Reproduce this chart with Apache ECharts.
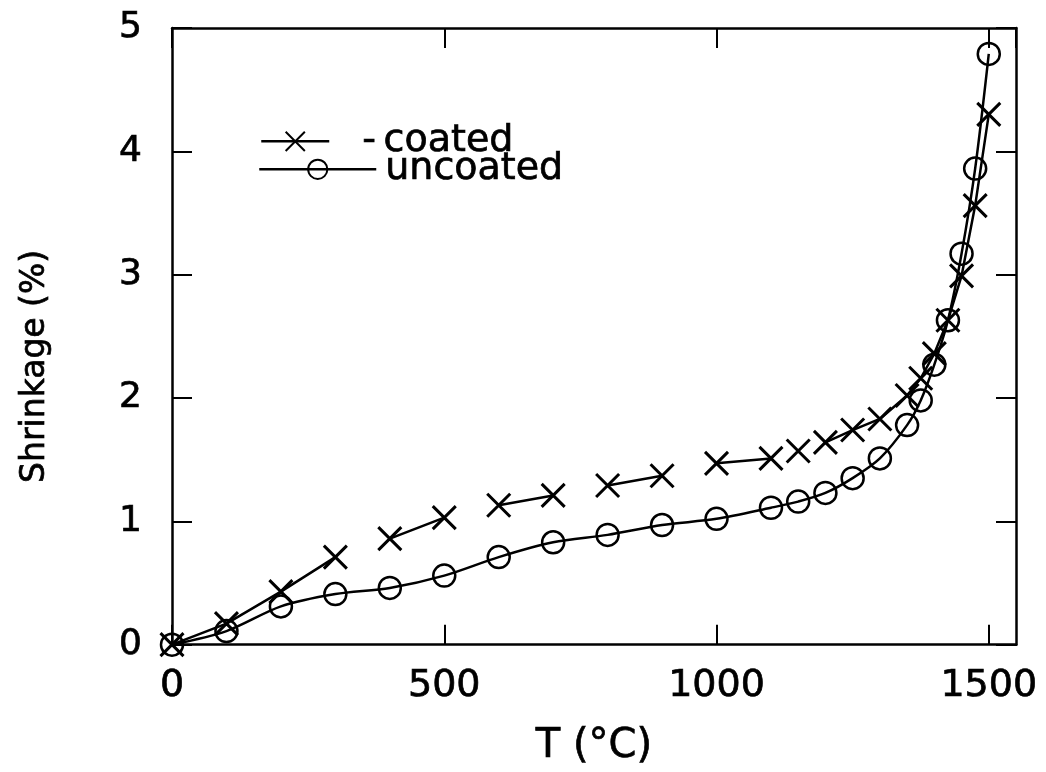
<!DOCTYPE html>
<html>
<head>
<meta charset="utf-8">
<script src="https://cdn.jsdelivr.net/npm/echarts@6/dist/echarts.min.js"></script>
<style>
  html, body { margin: 0; padding: 0; background: #fff; }
  #chart { width: 1046px; height: 772px; }
</style>
</head>
<body>
<div id="chart"></div>
<script>
// Temperature (°C) at each measurement
const coatedT = [0, 100, 200, 300, 400, 500, 600, 700, 800, 900, 1000, 1100, 1150, 1200, 1250, 1300, 1350, 1375, 1400, 1425, 1450, 1475, 1500];
// Shrinkage (%) of the coated sample
const coatedS = [0, 0.17, 0.43, 0.71, 0.86, 1.03, 1.13, 1.21, 1.29, 1.37, 1.47, 1.51, 1.57, 1.64, 1.74, 1.83, 2.02, 2.16, 2.36, 2.63, 2.99, 3.56, 4.30];
// The coated trace is only joined up between some neighbours: a break follows these indices
const coatedBreaksAfter = [3, 5, 7, 9, 11, 12];

const uncoatedT = [0, 100, 200, 300, 400, 500, 600, 700, 800, 900, 1000, 1100, 1150, 1200, 1250, 1300, 1350, 1375, 1400, 1425, 1450, 1475, 1500];
const uncoatedS = [0, 0.11, 0.31, 0.41, 0.46, 0.56, 0.71, 0.83, 0.89, 0.97, 1.02, 1.11, 1.16, 1.23, 1.35, 1.51, 1.78, 1.98, 2.27, 2.63, 3.17, 3.86, 4.79];

const xTicks = [0, 500, 1000, 1500];
const yTicks = [0, 1, 2, 3, 4, 5];

const coatedName = '-\u2009coated';
const uncoatedName = 'uncoated';

const FONT = 'DejaVu Sans';
const crossPath = 'path://M0,0L20,20M20,0L0,20';

// Build the coated line data, inserting a blank point wherever the trace is broken
const coatedLine = [];
coatedT.forEach((t, i) => {
  coatedLine.push([t, coatedS[i]]);
  if (coatedBreaksAfter.includes(i)) coatedLine.push([t, '-']);
});
const uncoatedLine = uncoatedT.map((t, i) => [t, uncoatedS[i]]);

const xMax = 1550;
const yMax = yTicks[yTicks.length - 1];

// slightly heavier glyphs via a thin outline in the text colour
const ink = { color: '#000', fontFamily: FONT, textBorderColor: '#000', textBorderWidth: 0.7 };

const axisLine = { show: true, onZero: false, lineStyle: { color: '#000', width: 2.5 } };
const innerTick = { show: true, inside: true, length: 20, lineStyle: { color: '#000', width: 2 } };
const legendLine = { color: '#000', width: 2.5 };

const chart = echarts.init(document.getElementById('chart'), null, { renderer: 'canvas' });
chart.setOption({
  backgroundColor: '#fff',
  animation: false,
  textStyle: { fontFamily: FONT, color: '#000' },
  grid: { left: 172, right: 30, top: 28, bottom: 115, containLabel: false },
  legend: [
    {
      data: [coatedName],
      left: 255, top: 117,
      itemWidth: 68, itemHeight: 24, itemGap: 0,
      lineStyle: legendLine,
      textStyle: Object.assign({ fontSize: 38, padding: [0, 0, 0, 28] }, ink)
    },
    {
      data: [uncoatedName],
      left: 253, top: 145,
      itemWidth: 117, itemHeight: 24, itemGap: 0,
      lineStyle: legendLine,
      textStyle: Object.assign({ fontSize: 38, padding: [0, 0, 0, 4] }, ink)
    }
  ],
  xAxis: [
    {
      type: 'value', min: 0, max: xMax, interval: 500,
      name: 'T (°C)', nameLocation: 'middle', nameGap: 82,
      nameTextStyle: Object.assign({ fontSize: 40 }, ink),
      axisLine, axisTick: innerTick,
      axisLabel: Object.assign({
        margin: 22, fontSize: 38, showMaxLabel: false,
        formatter: v => (xTicks.includes(v) ? String(v) : '')
      }, ink),
      splitLine: { show: false }
    },
    {
      type: 'value', position: 'top', min: 0, max: xMax, interval: 500,
      axisLine, axisTick: innerTick, axisLabel: { show: false }, splitLine: { show: false }
    }
  ],
  yAxis: [
    {
      type: 'value', min: 0, max: yMax, interval: 1,
      name: 'Shrinkage (%)', nameLocation: 'middle', nameGap: 120, nameRotate: 90,
      nameTextStyle: Object.assign({ fontSize: 33, padding: [0, 60, 0, 0] }, ink),
      axisLine, axisTick: innerTick,
      axisLabel: Object.assign({
        margin: 30, fontSize: 36,
        formatter: v => (yTicks.includes(v) ? String(v) : '')
      }, ink),
      splitLine: { show: false }
    },
    {
      type: 'value', position: 'right', min: 0, max: yMax, interval: 1,
      axisLine, axisTick: innerTick, axisLabel: { show: false }, splitLine: { show: false }
    }
  ],
  series: [
    {
      name: coatedName,
      type: 'line',
      data: coatedLine,
      connectNulls: false,
      symbol: crossPath,
      symbolSize: 23,
      showAllSymbol: true,
      lineStyle: { color: '#000', width: 2.5 },
      itemStyle: { color: 'rgba(0,0,0,0)', borderColor: '#000', borderWidth: 3 },
      z: 3
    },
    {
      name: uncoatedName,
      type: 'line',
      data: uncoatedLine,
      smooth: 0.3,
      symbol: 'circle',
      symbolSize: 22,
      showAllSymbol: true,
      lineStyle: { color: '#000', width: 2.5 },
      itemStyle: { color: 'rgba(0,0,0,0)', borderColor: '#000', borderWidth: 2.5 },
      z: 2
    }
  ]
});
</script>
</body>
</html>
